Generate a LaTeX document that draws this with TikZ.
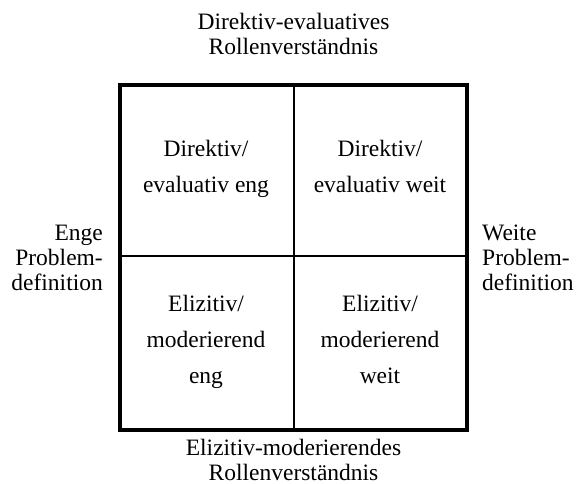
\documentclass[tikz,border=0pt]{standalone}
\usepackage{fontspec}
\setmainfont{Liberation Serif}
\begin{document}
\begin{tikzpicture}[x=1pt, y=-1pt,
  frame/.style={draw, line width=4pt, inner sep=0pt, minimum width=347pt, minimum height=345pt},
  divider/.style={line width=2pt},
  axislabel/.style={inner sep=0pt, font=\fontsize{23.5}{25}\selectfont},
  cell/.style={inner sep=0pt, anchor=base, align=center, font=\fontsize{23.5}{36}\selectfont}]
\useasboundingbox (0,0) rectangle (576,484);

% outer frame of the 2x2 grid
\node[frame] (grid) at (293.5,257.5) {};
\coordinate (vtop) at (294,85);
\coordinate (vbot) at (294,430);
\coordinate (hleft) at (120,256);
\coordinate (hright) at (467,256);
\draw[divider] (vtop) -- (vbot);
\draw[divider] (hleft) -- (hright);

% axis labels around the grid (anchored at the last line's baseline)
\node[axislabel, anchor=base, align=center] (top) at (293.5,55)
  {Direktiv-evaluatives\\Rollenverständnis};
\node[axislabel, anchor=base, align=center] (bottom) at (293.5,480)
  {Elizitiv-moderierendes\\Rollenverständnis};
\node[axislabel, anchor=base east, align=right] (left) at (103,290)
  {Enge\\Problem-\\definition};
\node[axislabel, anchor=base west, align=left] (right) at (482,290)
  {Weite\\Problem-\\definition};

% the four quadrants
\node[cell] (q11) at (206,193) {Direktiv/\\evaluativ eng};
\node[cell] (q12) at (380,193) {Direktiv/\\evaluativ weit};
\node[cell] (q21) at (206,383) {Elizitiv/\\moderierend\\eng};
\node[cell] (q22) at (380,383) {Elizitiv/\\moderierend\\weit};
\end{tikzpicture}
\end{document}
